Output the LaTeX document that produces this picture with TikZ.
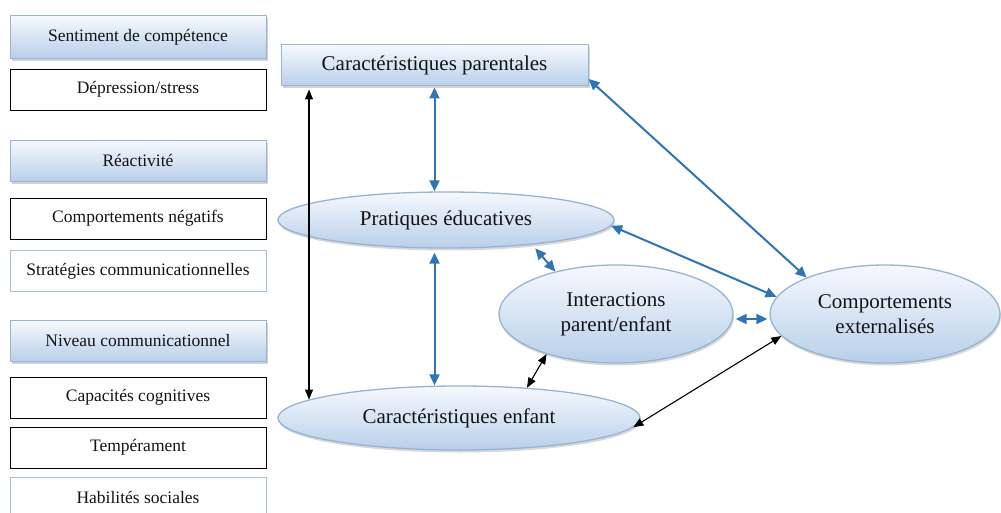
\documentclass[tikz,border=0pt]{standalone}
\usepackage{fontspec}
\setmainfont{Liberation Serif}
\usetikzlibrary{shapes.geometric,shadows,arrows.meta}
\definecolor{topc}{RGB}{246,249,253}
\definecolor{botc}{RGB}{184,207,234}
\definecolor{edgec}{RGB}{150,180,212}
\definecolor{lbord}{RGB}{165,192,215}
\definecolor{blu}{RGB}{46,117,182}
\definecolor{txt}{RGB}{20,20,20}
\begin{document}
\begin{tikzpicture}[x=1pt,y=-1pt,
 base/.style={inner sep=0pt, text=txt},
 lbox/.style={base, rectangle, minimum width=256pt, minimum height=41pt, font=\fontsize{17.5}{20}\selectfont},
 shadedbox/.style={lbox, draw=edgec, line width=1pt, top color=topc, bottom color=botc,
   drop shadow={shadow xshift=1.5pt, shadow yshift=-2.5pt, opacity=0.35}},
 blackbox/.style={lbox, draw=black, line width=0.9pt, fill=white},
 bluebox/.style={lbox, draw=lbord, line width=1pt, fill=white},
 oval/.style={base, ellipse, draw=edgec, line width=1.3pt, top color=topc, bottom color=botc,
   font=\fontsize{21}{25}\selectfont, align=center,
   drop shadow={shadow xshift=1pt, shadow yshift=-2.5pt, opacity=0.3}},
 barrow/.style={draw=blu, line width=2pt, {Triangle[length=11pt,width=10pt]}-{Triangle[length=11pt,width=10pt]}},
 karrow/.style={draw=black, line width=1.1pt, {Triangle[length=10pt,width=8pt]}-{Triangle[length=10pt,width=8pt]}},
]
\fill[white] (0,0) rectangle (1001,513);
\useasboundingbox (0,0) rectangle (1001,513);

% left column
\node[shadedbox, minimum height=43pt] (sc) at (138,37) {Sentiment de compétence};
\node[blackbox] (dep) at (138,89.5) {Dépression/stress};
\node[shadedbox] (rea) at (138,161) {Réactivité};
\node[blackbox] (cn) at (138,218.5) {Comportements négatifs};
\node[bluebox] (sco) at (138,271) {Stratégies communicationnelles};
\node[shadedbox] (niv) at (138,341) {Niveau communicationnel};
\node[blackbox] (cap) at (138,397.5) {Capacités cognitives};
\node[blackbox] (tem) at (138,447.5) {Tempérament};
\node[bluebox] (hab) at (138,497.5) {Habilités sociales};

% right diagram
\node[shadedbox, minimum width=307pt, font=\fontsize{21}{25}\selectfont] (par) at (434.5,65.5) {Caractéristiques parentales};
\node[oval, minimum width=336pt, minimum height=56pt] (prat) at (446,220) {Pratiques éducatives};
\node[oval, minimum width=362pt, minimum height=64pt] (enf) at (459,418) {Caractéristiques enfant};
\node[oval, minimum width=234pt, minimum height=98pt] (int) at (616,314) {Interactions\\parent/enfant};
\node[oval, minimum width=230pt, minimum height=98pt] (comp) at (885,314) {Comportements\\externalisés};

% connectors
\draw[karrow, shorten <=3pt] (enf.173 |- par.south) -- (enf.173);
\draw[barrow, shorten <=1pt] (par.south) -- (par.south |- prat.north);
\draw[barrow, shorten <=4pt] (prat.south -| par.south) -- (enf.north -| par.south);
\draw[barrow, shorten <=5pt] (prat.-16) -- (int.145);
\draw[karrow] (enf.24) -- (int.-150);
\draw[barrow, shorten <=2pt, shorten >=2pt] ([yshift=-5pt]int.east) -- ([yshift=-5pt]comp.west);
\draw[barrow] (par.-5) -- (comp.155);
\draw[barrow] (prat.-2) -- (comp.171);
\draw[karrow] (enf.-3) -- (comp.192);
\end{tikzpicture}
\end{document}
